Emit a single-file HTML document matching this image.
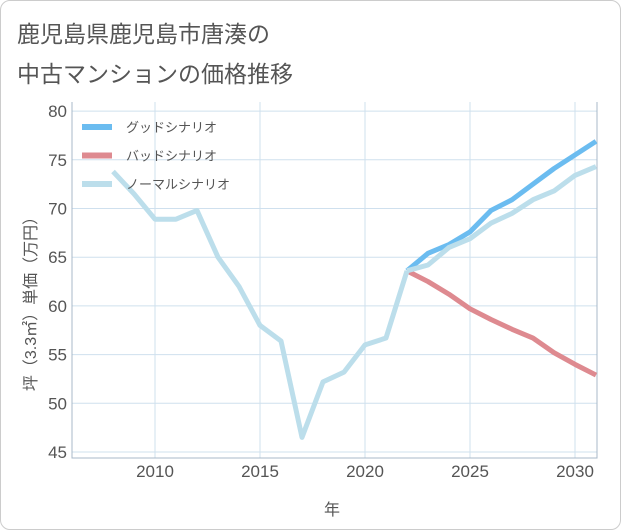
<!DOCTYPE html>
<html><head><meta charset="utf-8"><style>
body{margin:0;background:#fff;font-family:"Liberation Sans","Noto Sans CJK JP",sans-serif;}
#wrap{position:relative;width:619px;height:528px;border:1px solid #ccc;border-radius:10px;overflow:hidden;}
.t{position:absolute;left:16px;color:#555;font-size:23px;}
</style></head><body>
<div id="wrap">
<div class="t" style="top:14px">鹿児島県鹿児島市唐湊の</div>
<div class="t" style="top:54px">中古マンションの価格推移</div>
<svg id="c" width="621" height="530" style="position:absolute;left:-1px;top:-1px"></svg>
</div>
<script>
const years=[2008,2009,2010,2011,2012,2013,2014,2015,2016,2017,2018,2019,2020,2021,2022];
const normalHist=[73.8,71.5,68.9,68.9,69.8,65,62,58,56.4,46.5,52.2,53.2,56,56.7,63.6];
const futYears=[2022,2023,2024,2025,2026,2027,2028,2029,2030,2031];
const good=[63.6,65.4,66.3,67.6,69.8,70.9,72.5,74.1,75.5,76.9];
const bad=[63.6,62.5,61.2,59.7,58.6,57.6,56.7,55.2,54,52.9];
const normal=[63.6,64.2,66,66.9,68.5,69.5,70.9,71.8,73.4,74.3];
const yTicks=[45,50,55,60,65,70,75,80];
const xTicks=[2010,2015,2020,2025,2030];
const legendLabels=["グッドシナリオ","バッドシナリオ","ノーマルシナリオ"];
const NS="http://www.w3.org/2000/svg",svg=document.getElementById('c');
const L=72,R=597,T=102,B=458;
const x=v=>155+(v-2010)*21, y=v=>452-(v-45)*9.74;
function el(t,a,p){const e=document.createElementNS(NS,t);for(const k in a)e.setAttribute(k,a[k]);(p||svg).appendChild(e);return e;}
for(const v of yTicks){const g=el('line',{x1:L,x2:R,y1:y(v),y2:y(v),stroke:'#cfe0ee','stroke-width':1});

const t=el('text',{x:L-5,y:y(v)+6,'text-anchor':'end','font-size':17,fill:'#555'});t.textContent=v;
}
for(const v of xTicks){const g=el('line',{x1:x(v),x2:x(v),y1:T,y2:B,stroke:'#cfe0ee','stroke-width':1});

const t=el('text',{x:x(v),y:B+19,'text-anchor':'middle','font-size':17,fill:'#555'});t.textContent=v;
}
const ax=el('path',{d:`M${L} ${T}V${B}H${R}V${T}`,fill:'none',stroke:'#a8b8c8','stroke-width':1});

function line(xs,ys,c,n){const p=el('polyline',{points:xs.map((v,i)=>x(v)+','+y(ys[i])).join(' '),fill:'none',stroke:c,'stroke-width':5,'stroke-linejoin':'round'});
}
line(futYears,good,'#6bbcf0','good-scenario-line');
line(futYears,bad,'#de8a90','bad-scenario-line');
line(futYears,normal,'#bcdeeb','normal-scenario-line');
line(years,normalHist,'#bcdeeb','historical-line');
const lc=['#6bbcf0','#de8a90','#bcdeeb'];
legendLabels.forEach((s,i)=>{const yy=127+i*28.5;
const r=el('rect',{x:82,y:yy-3,width:30,height:6,fill:lc[i]});
const t=el('text',{x:126,y:yy+5,'font-size':13,fill:'#555'});t.textContent=s;});
const yt=el('text',{x:0,y:0,transform:'translate(36 300) rotate(-90)','text-anchor':'middle','font-size':16,fill:'#555'});yt.textContent='坪（3.3㎡）単価（万円）';

const xt=el('text',{x:332,y:515,'text-anchor':'middle','font-size':16,fill:'#555'});xt.textContent='年';

</script>
</body></html>
